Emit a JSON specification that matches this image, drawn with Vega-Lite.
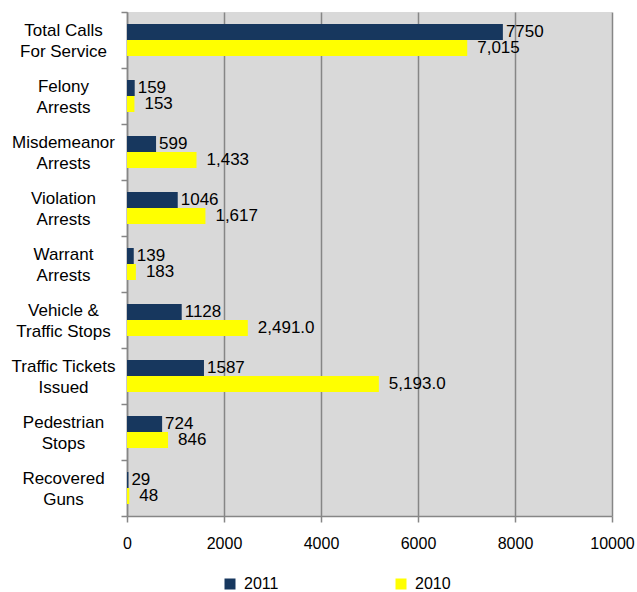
{
  "$schema": "https://vega.github.io/schema/vega-lite/v6.json",
  "width": 485,
  "height": 504,
  "autosize": "none",
  "padding": {"left": 127, "top": 12, "right": 25, "bottom": 76},
  "background": "white",
  "config": {
    "view": {"fill": "#d9d9d9", "stroke": null},
    "font": "Liberation Sans"
  },
  "data": {
    "values": [
      {"category": "Total Calls\nFor Service", "year": "2011", "value": 7750, "label": "7750"},
      {"category": "Total Calls\nFor Service", "year": "2010", "value": 7015, "label": "7,015"},
      {"category": "Felony\nArrests", "year": "2011", "value": 159, "label": "159"},
      {"category": "Felony\nArrests", "year": "2010", "value": 153, "label": "153"},
      {"category": "Misdemeanor\nArrests", "year": "2011", "value": 599, "label": "599"},
      {"category": "Misdemeanor\nArrests", "year": "2010", "value": 1433, "label": "1,433"},
      {"category": "Violation\nArrests", "year": "2011", "value": 1046, "label": "1046"},
      {"category": "Violation\nArrests", "year": "2010", "value": 1617, "label": "1,617"},
      {"category": "Warrant\nArrests", "year": "2011", "value": 139, "label": "139"},
      {"category": "Warrant\nArrests", "year": "2010", "value": 183, "label": "183"},
      {"category": "Vehicle &\nTraffic Stops", "year": "2011", "value": 1128, "label": "1128"},
      {"category": "Vehicle &\nTraffic Stops", "year": "2010", "value": 2491, "label": "2,491.0"},
      {"category": "Traffic Tickets\nIssued", "year": "2011", "value": 1587, "label": "1587"},
      {"category": "Traffic Tickets\nIssued", "year": "2010", "value": 5193, "label": "5,193.0"},
      {"category": "Pedestrian\nStops", "year": "2011", "value": 724, "label": "724"},
      {"category": "Pedestrian\nStops", "year": "2010", "value": 846, "label": "846"},
      {"category": "Recovered\nGuns", "year": "2011", "value": 29, "label": "29"},
      {"category": "Recovered\nGuns", "year": "2010", "value": 48, "label": "48"}
    ]
  },
  "encoding": {
    "y": {
      "field": "category",
      "type": "nominal",
      "sort": null,
      "scale": {"paddingInner": 0, "paddingOuter": 0},
      "axis": {
        "title": null,
        "tickBand": "extent",
        "tickSize": 6,
        "tickColor": "#868686",
        "tickWidth": 1.5,
        "domainColor": "#868686",
        "domainWidth": 1.5,
        "labelAlign": "center",
        "labelBaseline": "middle",
        "labelPadding": 58,
        "labelOffset": -10,
        "labelFontSize": 17,
        "labelLineHeight": 21,
        "labelLimit": 0,
        "labelColor": "#000000",
        "labelExpr": "isString(datum.value) ? split(datum.value, '\\n') : ''",
        "grid": false
      }
    },
    "yOffset": {
      "field": "year",
      "type": "nominal",
      "sort": ["2011", "2010"],
      "scale": {"paddingInner": 0, "paddingOuter": 0.75}
    },
    "x": {
      "field": "value",
      "type": "quantitative",
      "scale": {"domain": [0, 10000], "nice": false},
      "axis": {
        "title": null,
        "values": [0, 2000, 4000, 6000, 8000, 10000],
        "format": "d",
        "grid": true,
        "gridColor": "#868686",
        "gridWidth": 1.5,
        "domainColor": "#868686",
        "domainWidth": 1.5,
        "tickColor": "#868686",
        "tickWidth": 1.5,
        "tickSize": 6,
        "labelFontSize": 16,
        "labelPadding": 13,
        "labelColor": "#000000",
        "labelFlush": false
      }
    }
  },
  "layer": [
    {
      "mark": {"type": "bar"},
      "encoding": {
        "color": {
          "field": "year",
          "type": "nominal",
          "scale": {"domain": ["2011", "2010"], "range": ["#17375e", "#ffff00"]},
          "legend": {
            "title": null,
            "orient": "none",
            "legendX": 95,
            "legendY": 564,
            "direction": "horizontal",
            "symbolType": "square",
            "symbolSize": 121,
            "symbolStrokeWidth": 0,
            "labelFontSize": 16,
            "labelOffset": 6,
            "labelColor": "#000000",
            "labelLimit": 0,
            "columnPadding": 114,
            "padding": 0
          }
        }
      }
    },
    {
      "transform": [{"filter": "datum.year == '2011'"}],
      "mark": {"type": "text", "align": "left", "baseline": "middle", "dx": 3, "fontSize": 17, "color": "#000000"},
      "encoding": {"text": {"field": "label"}}
    },
    {
      "transform": [{"filter": "datum.year == '2010'"}],
      "mark": {"type": "text", "align": "left", "baseline": "middle", "dx": 10, "fontSize": 17, "color": "#000000"},
      "encoding": {"text": {"field": "label"}}
    }
  ]
}
